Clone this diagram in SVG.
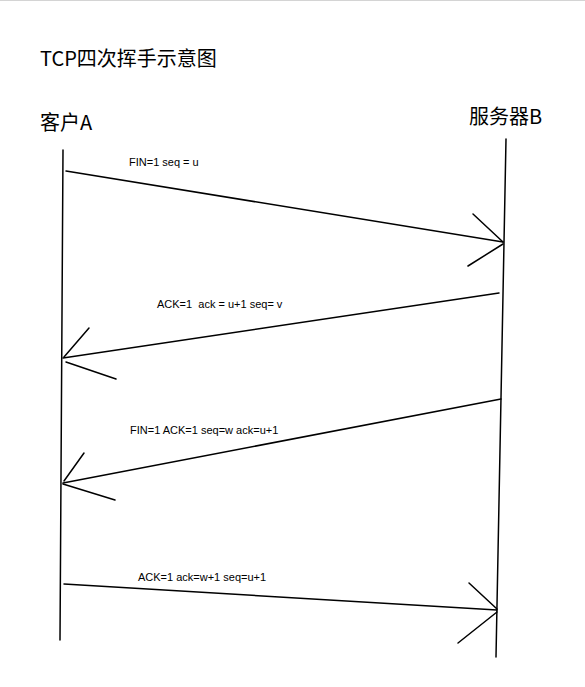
<svg xmlns="http://www.w3.org/2000/svg" width="585" height="687" viewBox="0 0 585 687">
<style>
.ln{stroke:#000;stroke-width:1.5;fill:none;stroke-linecap:round}
.big{font-family:"Noto Sans CJK SC","Liberation Sans",sans-serif;font-size:20px;fill:#000}
.lbl{font-family:"Liberation Sans",sans-serif;font-size:11px;fill:#000;white-space:pre}
</style>
<rect x="0" y="0" width="585" height="687" fill="#fff"/>
<line x1="0" y1="0.5" x2="585" y2="0.5" stroke="#d4d4d4" stroke-width="1"/>
<text class="big" x="40" y="66">TCP四次挥手示意图</text>
<g id="clientA">
<text class="big" x="40" y="130">客户A</text>
<line class="ln" x1="63" y1="150" x2="60" y2="640"/>
</g>
<g id="serverB">
<text class="big" x="469" y="124">服务器B</text>
<line class="ln" x1="506" y1="139" x2="496" y2="657"/>
</g>
<g id="connectors">
<line class="ln" x1="66" y1="171" x2="503" y2="242"/>
<line class="ln" x1="473" y1="214" x2="503" y2="242"/>
<line class="ln" x1="468" y1="266" x2="503" y2="244"/>
<text class="lbl" x="129" y="166">FIN=1 seq = u</text>

<line class="ln" x1="499" y1="293" x2="63" y2="358"/>
<line class="ln" x1="89" y1="328" x2="64" y2="357"/>
<line class="ln" x1="66" y1="362" x2="116" y2="379"/>
<text class="lbl" x="157" y="308" xml:space="preserve">ACK=1  ack = u+1 seq= v</text>

<line class="ln" x1="501" y1="399" x2="63" y2="483"/>
<line class="ln" x1="84" y1="453" x2="64" y2="481"/>
<line class="ln" x1="63" y1="484" x2="115" y2="500"/>
<text class="lbl" x="130" y="434">FIN=1 ACK=1 seq=w ack=u+1</text>

<line class="ln" x1="64" y1="584" x2="497" y2="610"/>
<line class="ln" x1="469" y1="583" x2="497" y2="609"/>
<line class="ln" x1="458" y1="643" x2="497" y2="612"/>
<text class="lbl" x="138" y="581">ACK=1 ack=w+1 seq=u+1</text>
</g>
</svg>
